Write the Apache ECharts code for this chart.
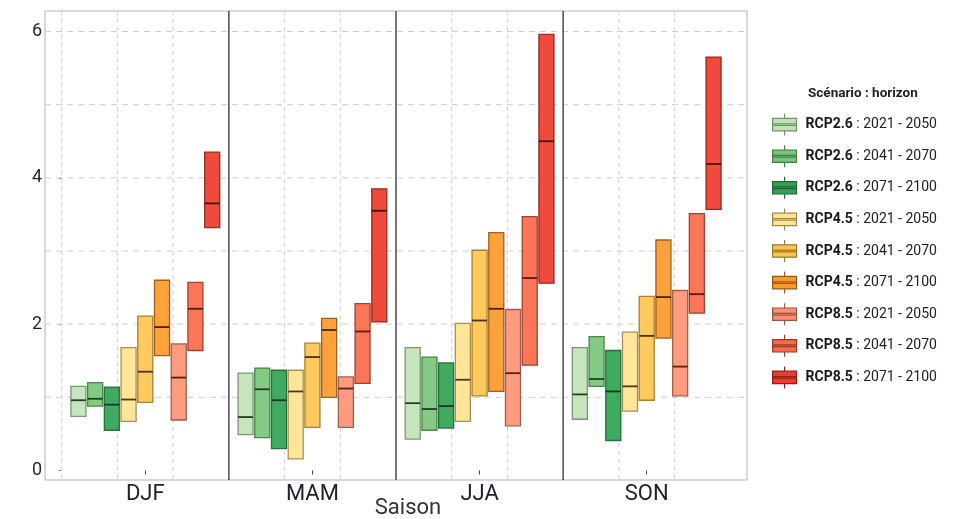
<!DOCTYPE html>
<html>
<head>
<meta charset="utf-8">
<script src="https://cdn.jsdelivr.net/npm/echarts@6/dist/echarts.min.js"></script>
<style>html,body{margin:0;padding:0;background:#fff;}#c{width:971px;height:519px;}</style>
</head>
<body>
<div id="c"></div>
<script>
// ---- data ----
const seasons = ['DJF', 'MAM', 'JJA', 'SON'];
const scenarios = [
  'RCP2.6 : 2021 - 2050', 'RCP2.6 : 2041 - 2070', 'RCP2.6 : 2071 - 2100',
  'RCP4.5 : 2021 - 2050', 'RCP4.5 : 2041 - 2070', 'RCP4.5 : 2071 - 2100',
  'RCP8.5 : 2021 - 2050', 'RCP8.5 : 2041 - 2070', 'RCP8.5 : 2071 - 2100'
];
// per season, one value per scenario (box bottom, median, box top)
const djfLow  = [0.74, 0.88, 0.55, 0.67, 0.93, 1.57, 0.69, 1.64, 3.32];
const djfMed  = [0.96, 0.98, 0.90, 0.97, 1.35, 1.96, 1.27, 2.21, 3.65];
const djfHigh = [1.15, 1.20, 1.14, 1.68, 2.11, 2.60, 1.73, 2.57, 4.35];
const mamLow  = [0.49, 0.45, 0.30, 0.16, 0.59, 1.00, 0.59, 1.19, 2.03];
const mamMed  = [0.73, 1.11, 0.96, 1.08, 1.55, 1.92, 1.12, 1.90, 3.55];
const mamHigh = [1.33, 1.40, 1.37, 1.37, 1.74, 2.08, 1.28, 2.28, 3.85];
const jjaLow  = [0.43, 0.55, 0.58, 0.67, 1.02, 1.08, 0.61, 1.44, 2.56];
const jjaMed  = [0.92, 0.84, 0.88, 1.24, 2.05, 2.21, 1.33, 2.63, 4.50];
const jjaHigh = [1.68, 1.55, 1.47, 2.01, 3.01, 3.25, 2.20, 3.47, 5.96];
const sonLow  = [0.70, 1.15, 0.41, 0.81, 0.96, 1.81, 1.02, 2.15, 3.57];
const sonMed  = [1.04, 1.25, 1.08, 1.15, 1.84, 2.37, 1.42, 2.41, 4.19];
const sonHigh = [1.68, 1.83, 1.64, 1.89, 2.38, 3.15, 2.46, 3.51, 5.65];
const yTickValues = [0, 2, 4, 6];
const yGridValues = [1, 2, 3, 4, 5, 6];
const xGridValues = [0, 1/3, 2/3, 4/3, 5/3, 7/3, 8/3, 10/3, 11/3];
const separatorValues = [1, 2, 3];
const seasonCenters = [0.5, 1.5, 2.5, 3.5];

// ---- styles ----
const fills   = ['#c1e3b9', '#78c679', '#31a354', '#fee391', '#fec44f', '#fe9929', '#fc9272', '#fb6a4a', '#ef3b2c'];
const borders = ['#6f9468', '#3f7f43', '#22663a', '#a08a4a', '#9c7a2c', '#945818', '#9a5646', '#9a3a28', '#8c2219'];
const medians = ['#24401f', '#1e3f20', '#163a22', '#4a3a12', '#4a3010', '#4a2508', '#5a2012', '#5a1a10', '#4a1008'];

const lows  = [djfLow, mamLow, jjaLow, sonLow];
const meds  = [djfMed, mamMed, jjaMed, sonMed];
const highs = [djfHigh, mamHigh, jjaHigh, sonHigh];

const chart = echarts.init(document.getElementById('c'), null, {renderer: 'canvas'});

function boxRenderer(k) {
  return function (params, api) {
    const s = api.value(0);
    const xc = s + 0.5 + (k - 4) * 0.1;
    const lo = api.coord([xc, api.value(1)]);
    const md = api.coord([xc, api.value(2)]);
    const hi = api.coord([xc, api.value(3)]);
    const w = api.size([0.09, 0])[0];
    return {
      type: 'group',
      children: [
        {type: 'rect', shape: {x: lo[0] - w / 2, y: hi[1], width: w, height: lo[1] - hi[1]},
         style: {fill: fills[k], stroke: borders[k], lineWidth: 1.3, opacity: 0.92}},
        {type: 'line', shape: {x1: lo[0] - w / 2, y1: md[1], x2: lo[0] + w / 2, y2: md[1]},
         style: {stroke: medians[k], lineWidth: 1.8}}
      ]
    };
  };
}

const boxSeries = scenarios.map((name, k) => ({
  name: name,
  type: 'custom',
  z: 3,
  itemStyle: {color: fills[k]},
  encode: {x: 0, y: [1, 2, 3]},
  data: seasons.map((s, i) => [i, lows[i][k], meds[i][k], highs[i][k]]),
  renderItem: boxRenderer(k)
}));

const vGrid = {
  type: 'custom', z: 1, silent: true,
  data: xGridValues.map(v => [v]),
  encode: {x: 0},
  renderItem: function (params, api) {
    const cs = params.coordSys;
    const x = api.coord([api.value(0), 0])[0];
    return {type: 'line', shape: {x1: x, y1: cs.y, x2: x, y2: cs.y + cs.height},
            style: {stroke: '#cfcfcf', lineWidth: 1, lineDash: [4, 4]}};
  }
};
const hGrid = {
  type: 'custom', z: 1, silent: true,
  data: yGridValues.map(v => [0, v]),
  encode: {y: 1},
  renderItem: function (params, api) {
    const cs = params.coordSys;
    const y = api.coord([0, api.value(1)])[1];
    return {type: 'line', shape: {x1: cs.x, y1: y, x2: cs.x + cs.width, y2: y},
            style: {stroke: '#cfcfcf', lineWidth: 1, lineDash: [6, 5]}};
  }
};
const separators = {
  type: 'custom', z: 2, silent: true,
  data: separatorValues.map(v => [v]),
  encode: {x: 0},
  renderItem: function (params, api) {
    const cs = params.coordSys;
    const x = api.coord([api.value(0), 0])[0];
    return {type: 'line', shape: {x1: x, y1: cs.y, x2: x, y2: cs.y + cs.height},
            style: {stroke: '#555555', lineWidth: 1.6}};
  }
};

const iconPath = 'path://M0,5 H25 V18 H0 Z M0,10.6 H25 V12.4 H0 Z M12.5,0 V5 M12.5,18 V23';

chart.setOption({
  animation: false,
  backgroundColor: '#ffffff',
  textStyle: {fontFamily: 'Roboto'},
  title: {
    text: 'Scénario : horizon',
    left: 803, top: 82,
    textStyle: {fontSize: 13.5, fontWeight: 'bold', color: '#222', fontFamily: 'Roboto'}
  },
  legend: {
    orient: 'vertical',
    left: 767, top: 108,
    itemWidth: 26, itemHeight: 22, itemGap: 8.4,
    icon: iconPath,
    data: scenarios.map((n, k) => ({name: n, itemStyle: {color: fills[k], borderColor: borders[k], borderWidth: 1.2}})),
    formatter: function (name) {
      const p = name.split(' : ');
      return '{b|' + p[0] + '}{n| : ' + p[1] + '}';
    },
    textStyle: {
      padding: [0, 0, 0, 3],
      rich: {
        b: {fontSize: 14, fontWeight: 'bold', color: '#1a1a1a', fontFamily: 'Roboto'},
        n: {fontSize: 14, color: '#222', fontFamily: 'Roboto'}
      }
    }
  },
  grid: {left: 45, top: 11, right: 224, bottom: 39, show: true, borderColor: '#b3b3b3', borderWidth: 1,
         containLabel: false, outerBoundsMode: 'none'},
  xAxis: {
    type: 'value', min: -0.1, max: 4.1,
    name: 'Saison', nameLocation: 'middle', nameGap: 17, nameMoveOverlap: false,
    nameTextStyle: {fontSize: 22, color: '#333', padding: [0, 0, 0, 24], verticalAlign: 'top'},
    axisLine: {show: false},
    splitLine: {show: false},
    axisTick: {show: true, length: 4, lineStyle: {color: '#444'}, customValues: seasonCenters},
    axisLabel: {customValues: seasonCenters, fontSize: 22, color: '#23232d', margin: 3,
                formatter: v => seasons[Math.floor(v)]}
  },
  yAxis: {
    type: 'value', min: -0.13, max: 6.28,
    axisLine: {show: false},
    splitLine: {show: false},
    axisTick: {show: true, length: 3, lineStyle: {color: '#888'}, customValues: yTickValues},
    axisLabel: {customValues: yTickValues, fontSize: 18, color: '#1f2533', margin: 3}
  },
  series: [vGrid, hGrid, separators].concat(boxSeries)
});
</script>
</body>
</html>
